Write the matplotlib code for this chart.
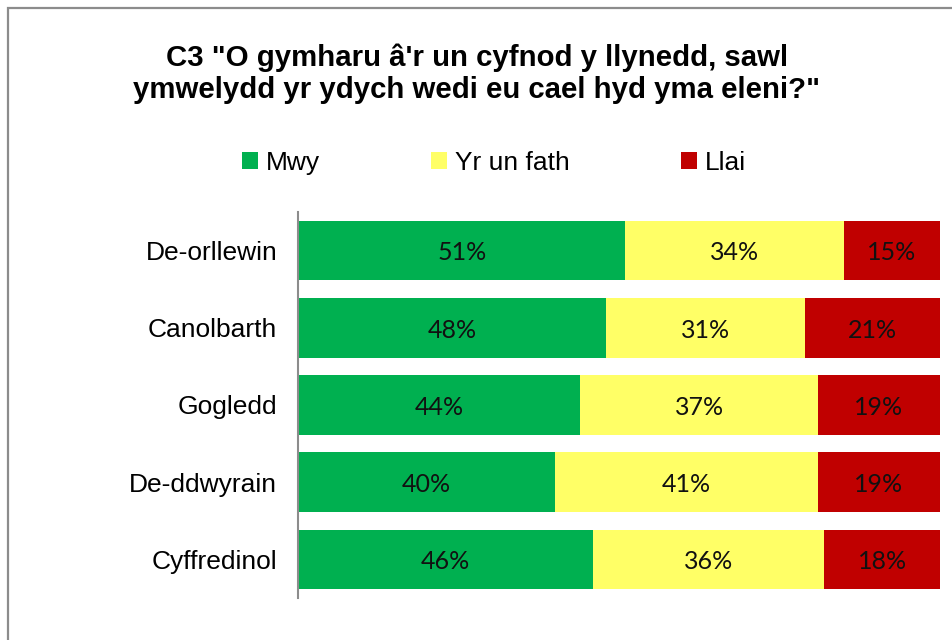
import matplotlib
matplotlib.use("Agg")
import matplotlib.pyplot as plt
from matplotlib.patches import Rectangle, Patch
import numpy as np

categories = ["De-orllewin", "Canolbarth", "Gogledd", "De-ddwyrain", "Cyffredinol"]
series_names = ["Mwy", "Yr un fath", "Llai"]
mwy = [51, 48, 44, 40, 46]
yr_un_fath = [34, 31, 37, 41, 36]
llai = [15, 21, 19, 19, 18]
colors = ["#00B050", "#FFFF66", "#C00000"]
title = 'C3 "O gymharu â\'r un cyfnod y llynedd, sawl\nymwelydd yr ydych wedi eu cael hyd yma eleni?"'

W, H = 953, 640
fig = plt.figure(figsize=(W / 100, H / 100), dpi=100)
fig.patch.set_facecolor("white")

# outer chart border (left and top visible)
fig.patches.append(Rectangle((8 / W, -0.1), 1.2, 1.1 - 8 / H, transform=fig.transFigure,
                             fill=False, edgecolor="#8c8c8c", linewidth=1.6, zorder=0))

ax = fig.add_axes([298 / W, 1 - 598 / H, (940 - 298) / W, (598 - 212) / H])

y = np.arange(len(categories))
left = np.zeros(len(categories))
for vals, name, col in zip([mwy, yr_un_fath, llai], series_names, colors):
    vals = np.array(vals, dtype=float)
    ax.barh(y, vals, left=left, height=0.77, color=col, label=name, edgecolor="none")
    for yi, (l, v) in enumerate(zip(left, vals)):
        ax.text(l + v / 2, yi + 0.03, f"{int(v)}%", ha="center", va="center",
                fontsize=18, family="Lato", color="#111111")
    left += vals

ax.set_xlim(0, 100)
ax.set_ylim(len(categories) - 0.5, -0.5)
ax.set_yticks(y)
ax.set_yticklabels(categories, fontsize=19, family="Liberation Sans")
ax.tick_params(axis="y", length=0, pad=15)
ax.set_xticks([])
for s in ["top", "right", "bottom"]:
    ax.spines[s].set_visible(False)
ax.spines["left"].set_color("#8c8c8c")
ax.spines["left"].set_linewidth(1.5)

fig.text(477 / W, 1 - 74 / H, title, ha="center", va="center", fontsize=21.2,
         fontweight="bold", family="Liberation Sans", linespacing=1.17)

handles = [Patch(facecolor=c, edgecolor="none") for c in colors]
leg = fig.legend(handles, series_names, loc="center", bbox_to_anchor=(494 / W, 1 - 163 / H),
                 ncol=3, frameon=False, prop={"family": "Liberation Sans", "size": 19},
                 handlelength=0.62, handleheight=0.62, handletextpad=0.3, columnspacing=4.2)

fig.savefig("out.png", dpi=100)
